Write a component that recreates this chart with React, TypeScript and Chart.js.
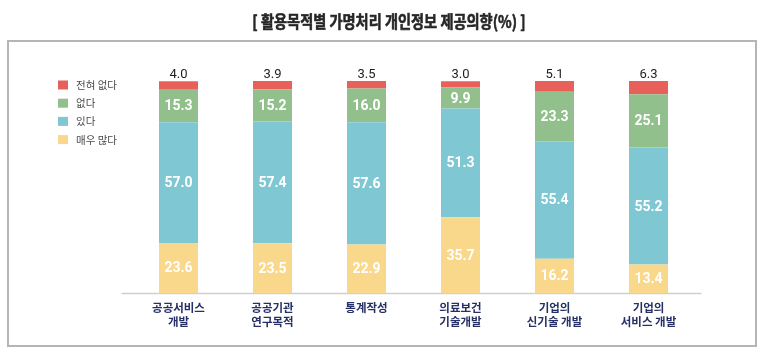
import React, { useEffect, useRef } from "react";
import { Chart, registerables } from "chart.js";

Chart.register(...registerables);

const categories: string[][] = [
  ["공공서비스", "개발"],
  ["공공기관", "연구목적"],
  ["통계작성"],
  ["의료보건", "기술개발"],
  ["기업의", "신기술 개발"],
  ["기업의", "서비스 개발"],
];

const seriesNames = ["매우 많다", "있다", "없다", "전혀 없다"];
const veryMuch = [23.6, 23.5, 22.9, 35.7, 16.2, 13.4];
const yes = [57.0, 57.4, 57.6, 51.3, 55.4, 55.2];
const no = [15.3, 15.2, 16.0, 9.9, 23.3, 25.1];
const notAtAll = [4.0, 3.9, 3.5, 3.0, 5.1, 6.3];
const seriesColors = ["#f9d88c", "#7fc7d3", "#92c08d", "#e8605a"];

const titleText = "[ 활용목적별 가명처리 개인정보 제공의향(%) ]";

const framePlugin = {
  id: "frame",
  beforeDraw(chart: any) {
    const ctx = chart.ctx;
    ctx.save();
    ctx.fillStyle = "#ffffff";
    ctx.fillRect(0, 0, chart.width, chart.height);
    ctx.strokeStyle = "#b5b5b5";
    ctx.lineWidth = 2;
    ctx.strokeRect(8, 41, 748, 305);
    // title
    ctx.fillStyle = "#262626";
    ctx.font = "bold 17px 'Noto Sans CJK KR'";
    ctx.textAlign = "center";
    ctx.textBaseline = "middle";
    ctx.translate(389, 22);
    ctx.scale(0.835, 1);
    ctx.fillText(titleText, 0, 0);
    ctx.lineWidth = 0.6;
    ctx.strokeStyle = "#262626";
    ctx.strokeText(titleText, 0, 0);
    ctx.restore();

    // legend
    ctx.save();
    const ds = chart.data.datasets;
    ctx.font = "10.5px 'Noto Sans CJK KR'";
    ctx.textBaseline = "middle";
    ctx.textAlign = "left";
    for (let k = 0; k < ds.length; k++) {
      const d = ds[ds.length - 1 - k];
      const cy = 85 + k * 18.2;
      ctx.fillStyle = d.backgroundColor;
      ctx.fillRect(58, cy - 4.5, 10, 9);
      ctx.fillStyle = "#4a4a4a";
      ctx.fillText(d.label, 76, cy);
    }
    ctx.restore();
  },
  beforeDatasetsDraw(chart: any) {
    const ctx = chart.ctx;
    const a = chart.chartArea;
    ctx.save();
    ctx.strokeStyle = "#d0d0d0";
    ctx.lineWidth = 1.5;
    ctx.beginPath();
    ctx.moveTo(a.left - 10, a.bottom + 0.5);
    ctx.lineTo(a.right + 6, a.bottom + 0.5);
    ctx.stroke();
    ctx.restore();
  },
  afterDatasetsDraw(chart: any) {
    const ctx = chart.ctx;
    const n = chart.data.datasets.length;
    ctx.save();
    ctx.textAlign = "center";
    chart.data.datasets.forEach((ds: any, di: number) => {
      const meta = chart.getDatasetMeta(di);
      meta.data.forEach((bar: any, i: number) => {
        const v = ds.data[i] as number;
        const p = bar.getProps(["x", "y", "base"], true);
        const txt = v.toFixed(1);
        if (di === n - 1) {
          ctx.fillStyle = "#1e1e1e";
          ctx.font = "13px Roboto";
          ctx.textBaseline = "alphabetic";
          ctx.fillText(txt, p.x, Math.min(p.y, p.base) - 3);
        } else {
          ctx.fillStyle = "#ffffff";
          ctx.font = "bold 14px Roboto";
          ctx.textBaseline = "middle";
          ctx.fillText(txt, p.x, (p.y + p.base) / 2 + 1);
        }
      });
    });
    ctx.restore();
  },
};

export default function App() {
  const ref = useRef<HTMLCanvasElement | null>(null);
  useEffect(() => {
    if (!ref.current) return;
    const values = [veryMuch, yes, no, notAtAll];
    const chart = new Chart(ref.current, {
      type: "bar",
      data: {
        labels: categories,
        datasets: values.map((vals, i) => ({
          label: seriesNames[i],
          data: vals,
          backgroundColor: seriesColors[i],
          borderWidth: 0,
          categoryPercentage: 1,
          barPercentage: 0.415,
        })),
      },
      options: {
        responsive: false,
        animation: false,
        devicePixelRatio: 1,
        layout: { padding: { left: 131.5, right: 70.5, top: 81, bottom: 0 } },
        plugins: {
          legend: { display: false },
          title: { display: false },
          tooltip: { enabled: false },
        },
        scales: {
          x: {
            stacked: true,
            grid: { display: false },
            border: { display: false },
            ticks: {
              color: "#263066",
              font: { family: "'Noto Sans CJK KR'", size: 11.5, weight: "bold", lineHeight: 1.25 },
              padding: -1,
              maxRotation: 0,
              autoSkip: false,
            },
            afterFit: (s: any) => {
              s.height = 67;
            },
          },
          y: {
            stacked: true,
            display: false,
            min: 0,
            max: 100,
          },
        },
      },
      plugins: [framePlugin],
    });
    return () => chart.destroy();
  }, []);
  return (
    <div style={{ position: "fixed", left: 0, top: 0, width: 766, height: 360 }}>
      <canvas ref={ref} width={766} height={360} style={{ width: 766, height: 360 }} />
    </div>
  );
}
